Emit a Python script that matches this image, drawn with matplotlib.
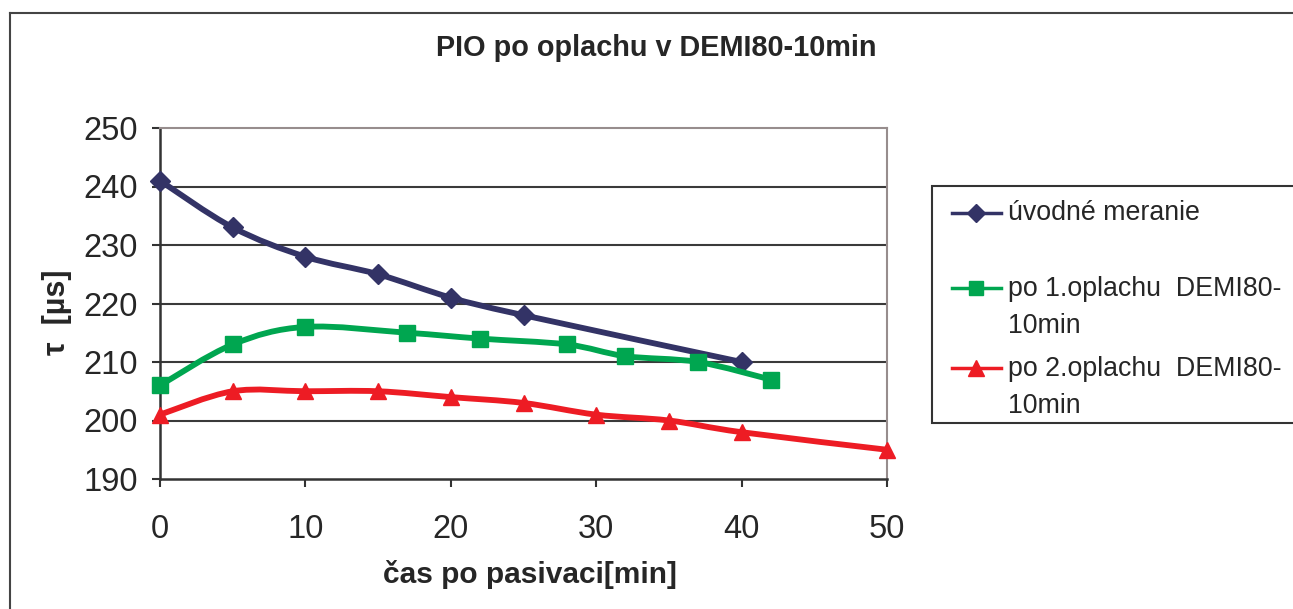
import numpy as np
import matplotlib
matplotlib.use("Agg")
import matplotlib.pyplot as plt
from matplotlib.path import Path
from matplotlib.patches import PathPatch, Rectangle
from matplotlib.lines import Line2D

plt.rcParams['font.family'] = ['Liberation Sans', 'DejaVu Sans']

# ---- data ----
title = "PIO po oplachu v DEMI80-10min"
xlabel = "čas po pasivaci[min]"
ylabel = "τ  [µs]"

labels = ["úvodné meranie", "po 1.oplachu  DEMI80-\n10min", "po 2.oplachu  DEMI80-\n10min"]

x_uvod = [0, 5, 10, 15, 20, 25, 40]
y_uvod = [241, 233, 228, 225, 221, 218, 210]

x_op1 = [0, 5, 10, 17, 22, 28, 32, 37, 42]
y_op1 = [206, 213, 216, 215, 214, 213, 211, 210, 207]

x_op2 = [0, 5, 10, 15, 20, 25, 30, 35, 40, 50]
y_op2 = [201, 205, 205, 205, 204, 203, 201, 200, 198, 195]

xticks = [0, 10, 20, 30, 40, 50]
yticks = [190, 200, 210, 220, 230, 240, 250]

colors = ["#333366", "#00a650", "#ed1c24"]
markers = ["D", "s", "^"]
msizes = [10, 11, 12]

TXT = "#262626"

W, H = 1293, 609
fig = plt.figure(figsize=(W / 100, H / 100), dpi=100)
fig.patch.set_facecolor("white")

ax = fig.add_axes([160 / W, 1 - 479 / H, 727 / W, 351 / H])
ax.set_xlim(0, 50)
ax.set_ylim(190, 250)


def smooth_path(xs, ys):
    pts = np.column_stack([xs, ys]).astype(float)
    n = len(pts)
    verts = [pts[0]]
    codes = [Path.MOVETO]
    for i in range(n - 1):
        p0 = pts[i - 1] if i > 0 else pts[i]
        p1 = pts[i]
        p2 = pts[i + 1]
        p3 = pts[i + 2] if i + 2 < n else pts[i + 1]
        c1 = p1 + (p2 - p0) / 6.0
        c2 = p2 - (p3 - p1) / 6.0
        verts += [c1, c2, p2]
        codes += [Path.CURVE4] * 3
    return Path(verts, codes)


all_series = [(x_uvod, y_uvod), (x_op1, y_op1), (x_op2, y_op2)]
for idx in [0, 2, 1]:
    xs, ys = all_series[idx]
    patch = PathPatch(smooth_path(xs, ys), facecolor="none", edgecolor=colors[idx],
                      lw=4.2, capstyle="round", joinstyle="round", zorder=3 + idx)
    ax.add_patch(patch)
    ax.plot(xs, ys, linestyle="none", marker=markers[idx], markersize=msizes[idx],
            color=colors[idx], markeredgecolor=colors[idx], clip_on=False, zorder=4 + idx)

# grid & spines
for yv in yticks[1:-1]:
    ax.axhline(yv, color="#3a3a3a", lw=1.5, zorder=1)
for s in ["top", "right"]:
    ax.spines[s].set_color("#978d8d")
    ax.spines[s].set_linewidth(1.5)
for s in ["left", "bottom"]:
    ax.spines[s].set_color("#333333")
    ax.spines[s].set_linewidth(1.8)

ax.set_xticks(xticks)
ax.set_yticks(yticks)
ax.tick_params(axis="both", direction="out", length=6, width=1.5, color="#333333",
               labelsize=23.5, labelcolor=TXT)
ax.tick_params(axis="x", pad=19)
ax.tick_params(axis="y", pad=10)

ax.set_xlabel(xlabel, fontsize=21.5, fontweight="bold", color=TXT)
ax.xaxis.set_label_coords((530 - 160) / 727, -(560 - 479) / 351)
ax.set_ylabel(ylabel, fontsize=22, fontweight="bold", color=TXT)
ax.yaxis.set_label_coords(-(160 - 72) / 727, (479 - 312) / 351)

fig.text(656 / W, 1 - 48 / H, title, ha="center", va="center", fontsize=20.8,
         fontweight="bold", color=TXT)

# outer chart border (left and top)
fig.add_artist(Line2D([9.5 / W, 9.5 / W], [0, 1 - 13 / H], color="#444444", lw=1.5))
fig.add_artist(Line2D([9.5 / W, 1], [1 - 13 / H, 1 - 13 / H], color="#444444", lw=1.5))

# legend box (manual)
lx0, ly0, ly1 = 932, 186, 423
fig.add_artist(Rectangle((lx0 / W, 1 - ly1 / H), (W + 20 - lx0) / W, (ly1 - ly0) / H,
                         transform=fig.transFigure, facecolor="white",
                         edgecolor="#333333", lw=1.5, clip_on=False))
entry_y = [213, 288, 368]
for i, (lab, yy) in enumerate(zip(labels, entry_y)):
    fy = 1 - yy / H
    fig.add_artist(Line2D([952 / W, 1001 / W], [fy, fy], color=colors[i], lw=2.5))
    fig.add_artist(Line2D([976 / W], [fy], color=colors[i], marker=markers[i],
                          markersize=msizes[i] - 1, markeredgecolor=colors[i], lw=0))
    if "\n" in lab:
        fig.text(1008 / W, 1 - (yy - 12) / H, lab, ha="left", va="top",
                 fontsize=19.3, color=TXT, linespacing=1.55)
    else:
        fig.text(1008 / W, fy, lab, ha="left", va="center",
                 fontsize=19.3, color=TXT)

fig.savefig("out.png", dpi=100, facecolor="white")
